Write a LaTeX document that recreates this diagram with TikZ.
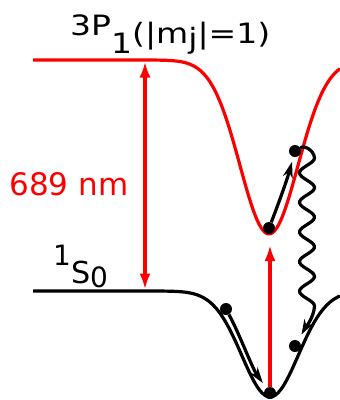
\documentclass[tikz,border=0pt]{standalone}
\usepackage{fontspec}
\setmainfont{DejaVu Sans}
\usetikzlibrary{arrows.meta}
\definecolor{lred}{RGB}{250,0,0}
\tikzset{
  curvered/.style={draw=lred, line width=3.2pt},
  curveblk/.style={draw=black, line width=3.2pt},
  redarrow/.style={draw=lred, line width=3.5pt},
  blkarrow/.style={draw=black, line width=3.2pt, -{Stealth[length=16pt,width=10pt]}},
  dotnode/.style={circle, fill=black, inner sep=0pt, minimum size=12pt},
  lbl/.style={inner sep=0pt, anchor=base west, font=\fontsize{28}{30}\selectfont}
}
\begin{document}
\begin{tikzpicture}[x=1pt,y=-1pt]
\useasboundingbox (0,0) rectangle (340,400);
% potential curves
\draw[curvered] plot[smooth, domain=33:340, samples=120] (\x,{60+174*exp(-((\x-269)/41)^2)});
\draw[curveblk] plot[smooth, domain=33:340, samples=120] (\x,{291+106*exp(-((\x-270)/40)^2)});
% labels
\node[lbl] (tp) at (70,43) {\scalebox{1.18}[1]{\raisebox{8pt}{3P}\raisebox{-10pt}{1}(|m\raisebox{-5pt}{j}|=1)}};
\node[lbl] (gs) at (53,283) {\raisebox{18pt}{1}\scalebox{1.08}{S}\raisebox{-4pt}{0}};
\node[lbl, text=lred, anchor=base, font=\fontsize{31}{34}\selectfont] (nm) at (69,195) {689 nm};
% red transitions
\coordinate (ru) at (145,61.5);
\coordinate (rd) at (145,289.5);
\draw[redarrow, {Latex[length=16pt,width=11pt]}-{Latex[length=16pt,width=11pt]}] (ru) -- (rd);
% dots
\node[dotnode] (d1) at (269,228) {};
\node[dotnode] (d2) at (295,151) {};
\node[dotnode] (d3) at (226,309) {};
\node[dotnode] (d4) at (270,393) {};
\node[dotnode] (d5) at (295,346) {};
\coordinate (rt) at (270,245);
\draw[redarrow, -{Latex[length=16pt,width=11pt]}] (d4) -- (rt);
% black arrows
\draw[blkarrow, shorten >=5pt] (d1) .. controls (278,205) and (287,180) .. (d2);
\draw[blkarrow, shorten >=6pt] (d3) .. controls (240,335) and (252,368) .. (d4);
% wavy
\draw[curveblk, -{Stealth[length=15pt,width=10pt]}, shorten >=7pt]
  (d2) .. controls (304,145) and (314,150) .. (314.5,158)
  -- plot[smooth, domain=158:306, samples=80, variable=\t] ({307+7.5*cos(12.16*(\t-158))},\t)
  .. controls (314,318) and (304,330) .. (d5);
\end{tikzpicture}
\end{document}
